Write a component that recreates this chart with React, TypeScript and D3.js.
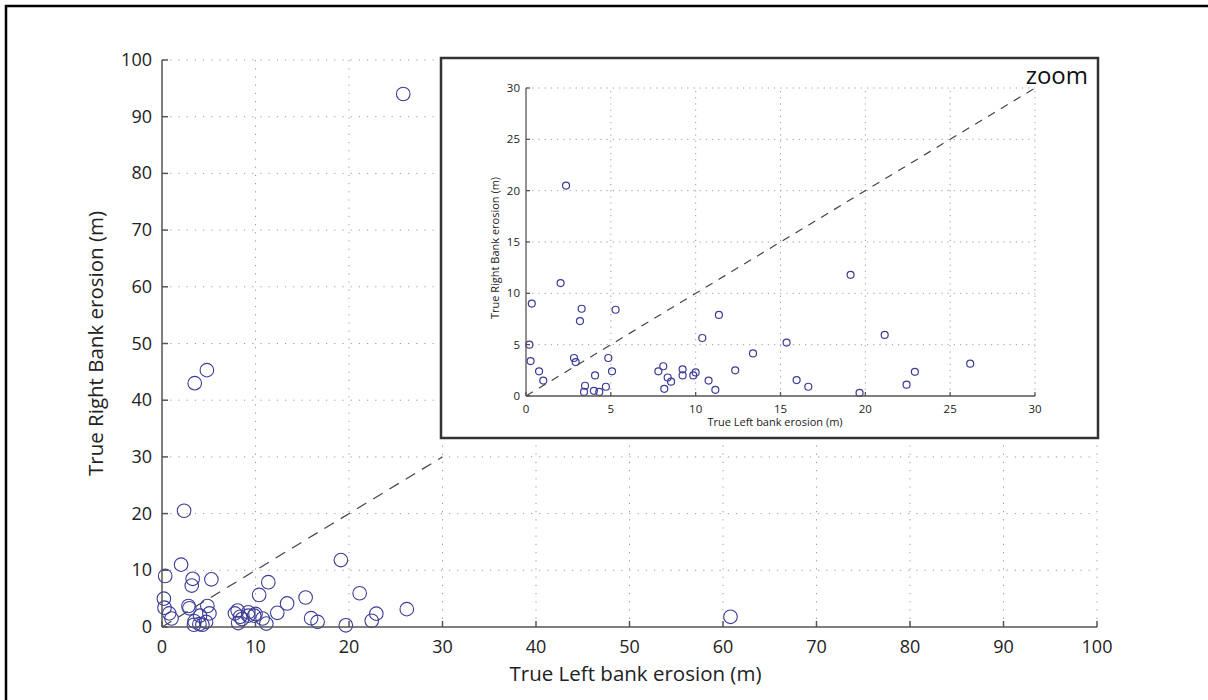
import React from "react";
import * as d3 from "d3";

// True Left bank erosion (m)
const leftBank: number[] = [
  0.34, 3.28, 3.18, 5.28, 0.2, 0.27, 0.77, 1.02, 2.83, 2.93, 4.85, 5.07, 4.07, 3.48, 3.42, 4.0, 4.32, 4.71,
  7.8, 8.09, 8.35, 8.55, 8.15, 9.23, 9.23, 9.86, 10.0, 11.37, 10.39, 10.76, 11.16, 12.33, 13.38, 15.36,
  15.95, 16.64, 19.13, 19.66, 21.14, 22.43, 22.92, 26.18, 2.04, 2.36, 3.5, 4.8, 25.8, 60.8,
];
// True Right Bank erosion (m)
const rightBank: number[] = [
  9.0, 8.5, 7.3, 8.4, 5.0, 3.4, 2.4, 1.5, 3.7, 3.3, 3.7, 2.4, 2.0, 1.0, 0.4, 0.5, 0.4, 0.9,
  2.4, 2.9, 1.8, 1.4, 0.7, 2.6, 2.0, 2.0, 2.3, 7.9, 5.65, 1.5, 0.6, 2.5, 4.15, 5.2,
  1.55, 0.9, 11.8, 0.3, 5.95, 1.1, 2.35, 3.15, 11.0, 20.5, 43.0, 45.3, 94.0, 1.8,
];

const mainTicks: number[] = [0, 10, 20, 30, 40, 50, 60, 70, 80, 90, 100];
const insetTicks: number[] = [0, 5, 10, 15, 20, 25, 30];
const mainDomain: [number, number] = [0, 100];
const insetDomain: [number, number] = [0, 30];
const diagonal: number[] = [0, 30];

const FONT = "'Open Sans', 'Noto Sans', sans-serif";
const MARK = "#3c3c98";
const AXIS = "#555";
const GRID = "#9a9a9a";

export default function App() {
  const points = leftBank.map((x, i) => ({ x, y: rightBank[i] }));

  const mx = d3.scaleLinear().domain(mainDomain).range([162, 1097]);
  const my = d3.scaleLinear().domain(mainDomain).range([627, 60]);
  const ix = d3.scaleLinear().domain(insetDomain).range([526, 1035]);
  const iy = d3.scaleLinear().domain(insetDomain).range([396, 88]);

  const mainLine = d3
    .line<number>()
    .x((d) => mx(d))
    .y((d) => my(d))(diagonal) as string;
  const insetLine = d3
    .line<number>()
    .x((d) => ix(d))
    .y((d) => iy(d))(diagonal) as string;

  const insetPts = points.filter((p) => p.x <= 30 && p.y <= 30);

  return (
    <svg
      width={1208}
      height={700}
      style={{ position: "absolute", left: 0, top: 0, background: "#fff" }}
      fontFamily={FONT}
    >
      <rect x={0} y={0} width={1208} height={700} fill="#fff" />
      <rect x={6} y={6} width={1230} height={720} fill="none" stroke="#000" strokeWidth={2.5} />

      {/* ===== Main plot ===== */}
      <g>
        {mainTicks.filter((t) => t > 0).map((t) => (
          <line key={"gx" + t} x1={mx(t)} x2={mx(t)} y1={my(0)} y2={my(100)} stroke={GRID} strokeWidth={1} strokeDasharray="1.2,7" />
        ))}
        {mainTicks.filter((t) => t > 0).map((t) => (
          <line key={"gy" + t} x1={mx(0)} x2={mx(100)} y1={my(t)} y2={my(t)} stroke={GRID} strokeWidth={1} strokeDasharray="1.2,7" />
        ))}
        <path d={mainLine} fill="none" stroke="#444" strokeWidth={1.2} strokeDasharray="11,8" />
        {points.map((p, i) => (
          <circle key={"m" + i} cx={mx(p.x)} cy={my(p.y)} r={6.8} fill="none" stroke={MARK} strokeWidth={1.1} />
        ))}
        <line x1={mx(0)} x2={mx(0)} y1={my(0)} y2={my(100)} stroke={AXIS} strokeWidth={1.5} />
        <line x1={mx(0)} x2={mx(100)} y1={my(0)} y2={my(0)} stroke={AXIS} strokeWidth={1.5} />
        {mainTicks.map((t) => (
          <g key={"tx" + t}>
            <line x1={mx(t)} x2={mx(t)} y1={my(0)} y2={my(0) - 6} stroke={AXIS} strokeWidth={1.5} />
            <text x={mx(t)} y={my(0) + 26} fontSize={18} textAnchor="middle" fill="#222">{t}</text>
          </g>
        ))}
        {mainTicks.map((t) => (
          <g key={"ty" + t}>
            <line x1={mx(0)} x2={mx(0) + 6} y1={my(t)} y2={my(t)} stroke={AXIS} strokeWidth={1.5} />
            <text x={mx(0) - 10} y={my(t) + 6} fontSize={18} textAnchor="end" fill="#222">{t}</text>
          </g>
        ))}
        <text x={mx(50) + 6} y={681} fontSize={20.5} textAnchor="middle" fill="#222">True Left bank erosion (m)</text>
        <text transform={`translate(103,${my(50)}) rotate(-90)`} fontSize={20.5} textAnchor="middle" fill="#222">
          True Right Bank erosion (m)
        </text>
      </g>

      {/* ===== Inset ===== */}
      <g>
        <rect x={441} y={58} width={657} height={380} fill="#fff" stroke="#333" strokeWidth={2.5} />
        {insetTicks.filter((t) => t > 0).map((t) => (
          <line key={"igx" + t} x1={ix(t)} x2={ix(t)} y1={iy(0)} y2={iy(30)} stroke={GRID} strokeWidth={1} strokeDasharray="1.2,5" />
        ))}
        {insetTicks.filter((t) => t > 0).map((t) => (
          <line key={"igy" + t} x1={ix(0)} x2={ix(30)} y1={iy(t)} y2={iy(t)} stroke={GRID} strokeWidth={1} strokeDasharray="1.2,5" />
        ))}
        <path d={insetLine} fill="none" stroke="#444" strokeWidth={1.2} strokeDasharray="8,7" />
        {insetPts.map((p, i) => (
          <circle key={"i" + i} cx={ix(p.x)} cy={iy(p.y)} r={3.5} fill="none" stroke={MARK} strokeWidth={1.2} />
        ))}
        <line x1={ix(0)} x2={ix(0)} y1={iy(0)} y2={iy(30)} stroke={AXIS} strokeWidth={1.3} />
        <line x1={ix(0)} x2={ix(30)} y1={iy(0)} y2={iy(0)} stroke={AXIS} strokeWidth={1.3} />
        {insetTicks.map((t) => (
          <g key={"itx" + t}>
            <line x1={ix(t)} x2={ix(t)} y1={iy(0)} y2={iy(0) - 4} stroke={AXIS} strokeWidth={1.3} />
            <text x={ix(t)} y={iy(0) + 17} fontSize={11.5} textAnchor="middle" fill="#222">{t}</text>
          </g>
        ))}
        {insetTicks.map((t) => (
          <g key={"ity" + t}>
            <line x1={ix(0)} x2={ix(0) + 4} y1={iy(t)} y2={iy(t)} stroke={AXIS} strokeWidth={1.3} />
            <text x={ix(0) - 6} y={iy(t) + 4} fontSize={11.5} textAnchor="end" fill="#222">{t}</text>
          </g>
        ))}
        <text x={775} y={426} fontSize={11} textAnchor="middle" fill="#222">True Left bank erosion (m)</text>
        <text transform={`translate(499,248) rotate(-90)`} fontSize={11} textAnchor="middle" fill="#222">
          True Right Bank erosion (m)
        </text>
        <text x={1088} y={84} fontSize={24} textAnchor="end" fill="#111">zoom</text>
      </g>
    </svg>
  );
}
